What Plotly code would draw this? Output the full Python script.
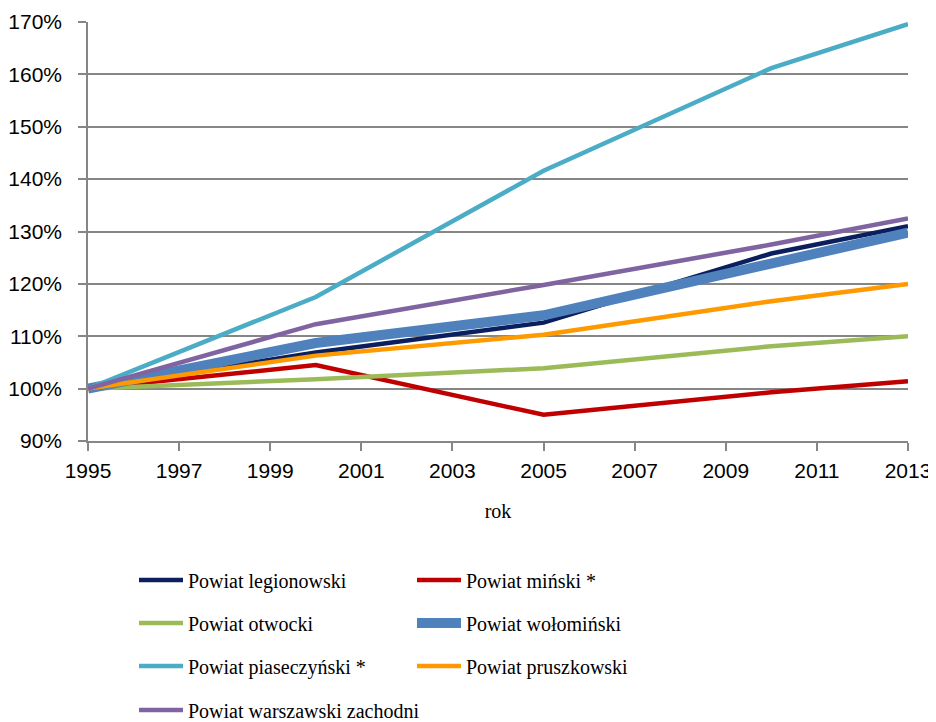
import plotly.graph_objects as go

years = [1995, 2000, 2005, 2010, 2013]

names = [
    "Powiat legionowski",
    "Powiat miński *",
    "Powiat otwocki",
    "Powiat wołomiński",
    "Powiat piaseczyński *",
    "Powiat pruszkowski",
    "Powiat warszawski zachodni",
]

legionowski = [100, 106.9, 112.6, 125.8, 131.0]
minski = [100, 104.5, 95.0, 99.3, 101.4]
otwocki = [100, 101.8, 103.9, 108.1, 110.0]
wolominski = [100, 108.7, 114.0, 124.0, 129.8]
piaseczynski = [100, 117.5, 141.6, 161.2, 169.6]
pruszkowski = [100, 106.3, 110.3, 116.7, 120.0]
warszawski_zach = [100, 112.3, 119.8, 127.5, 132.5]

series = [legionowski, minski, otwocki, wolominski, piaseczynski, pruszkowski, warszawski_zach]
colors = ["#0B1F5E", "#C00000", "#9BBB59", "#4F81BD", "#4BACC6", "#FF9900", "#8064A2"]
widths = [4.5, 4.5, 4.5, 10, 4.5, 4.5, 4.5]
legend_ids = ["legend", "legend", "legend2", "legend2", "legend3", "legend3", "legend4"]

x_ticks = list(range(1995, 2014, 2))
y_ticks = list(range(90, 171, 10))

fig = go.Figure()
for name, vals, col, w, lg in zip(names, series, colors, widths, legend_ids):
    fig.add_trace(go.Scatter(
        x=years, y=vals, mode="lines", name=name,
        line=dict(color=col, width=w),
        legend=lg,
    ))

# the page body adds an 8px margin, so the figure is drawn 8px smaller
OFF = 8
W, H = 936 - OFF, 722 - OFF
axis_col = "#868686"
tick_font = dict(family="Liberation Sans, Arial, sans-serif", size=21, color="#000000")
leg_font = dict(family="Liberation Serif, Times New Roman, serif", size=20, color="#000000")

rows_y = [572, 615, 658, 702]
legend_common = dict(
    orientation="h", xref="container", yref="container",
    x=126 / W, xanchor="left", yanchor="middle",
    font=leg_font, itemwidth=44,
    bgcolor="rgba(0,0,0,0)", traceorder="normal",
)

fig.update_layout(
    width=W, height=H,
    margin=dict(l=88 - OFF, r=28, t=22 - OFF, b=281, autoexpand=False),
    paper_bgcolor="white", plot_bgcolor="white",
    showlegend=True,
    xaxis=dict(
        range=[1995, 2013], tickmode="array", tickvals=x_ticks,
        ticktext=[str(v) for v in x_ticks],
        showgrid=False, zeroline=False, automargin=False,
        showline=True, linecolor=axis_col, linewidth=1.5,
        ticks="outside", ticklen=8, tickcolor=axis_col, tickwidth=1.5,
        tickfont=tick_font, ticklabelstandoff=2,
        title=dict(text="rok", font=dict(family="Liberation Serif, Times New Roman, serif", size=20, color="#000000"), standoff=23),
    ),
    yaxis=dict(
        range=[90, 170], tickmode="array", tickvals=y_ticks,
        ticktext=[f"{v}%" for v in y_ticks],
        showgrid=True, gridcolor=axis_col, gridwidth=1.5,
        zeroline=False, automargin=False,
        showline=True, linecolor=axis_col, linewidth=1.5,
        ticks="outside", ticklen=8, tickcolor=axis_col, tickwidth=1.5,
        tickfont=tick_font, ticklabelstandoff=12,
    ),
    legend=dict(**legend_common, entrywidth=219, y=1 - rows_y[0] / H),
    legend2=dict(**legend_common, entrywidth=219, y=1 - rows_y[1] / H),
    legend3=dict(**legend_common, entrywidth=219, y=1 - rows_y[2] / H),
    legend4=dict(**legend_common, entrywidth=300, y=1 - rows_y[3] / H),
)

fig.write_html("out.html")
